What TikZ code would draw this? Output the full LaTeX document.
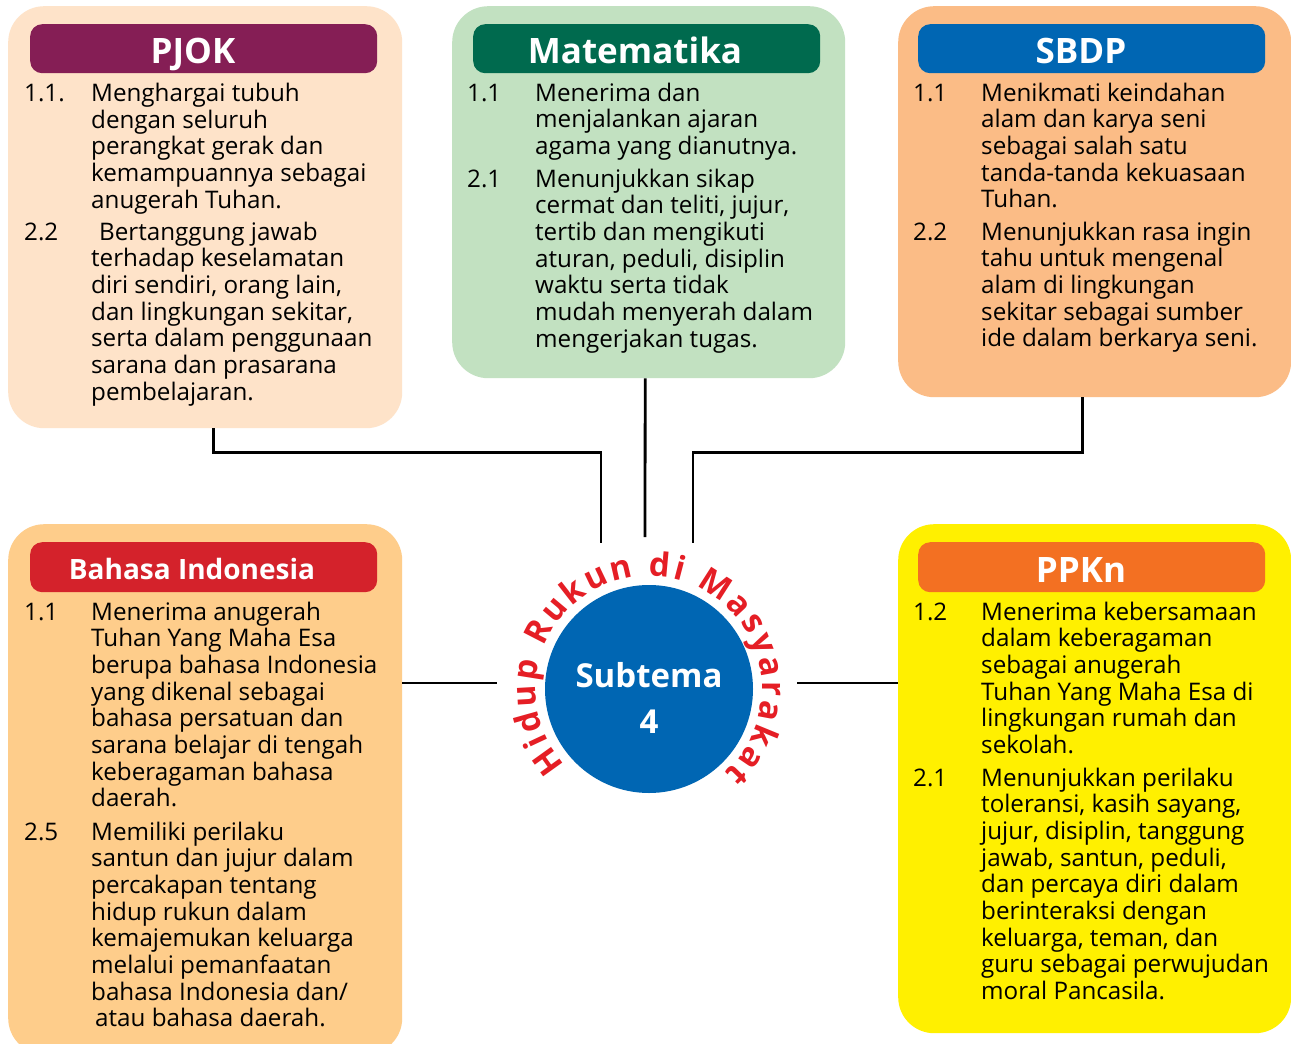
\documentclass[tikz,border=0pt]{standalone}
\usepackage{fontspec}
\setmainfont{Open Sans}
\usetikzlibrary{decorations.text}
\definecolor{pjokbg}{HTML}{FEE3C9}
\definecolor{pjokhd}{HTML}{851E55}
\definecolor{matbg}{HTML}{C2E1C1}
\definecolor{mathd}{HTML}{006A4E}
\definecolor{sbdpbg}{HTML}{FBBC86}
\definecolor{sbdphd}{HTML}{0066B3}
\definecolor{bindbg}{HTML}{FECD8B}
\definecolor{bindhd}{HTML}{D4222B}
\definecolor{ppknbg}{HTML}{FFF000}
\definecolor{ppknhd}{HTML}{F37022}
\definecolor{hubblue}{HTML}{0066B3}
\definecolor{hubred}{HTML}{E51E25}
\newcommand\bodyfnt{\fontsize{24.2}{26.7}\selectfont}
\newcommand\curvefnt{\fontsize{33}{36}\selectfont\bfseries\color{hubred}}
\newcommand\lns[1]{\begin{tabular}[t]{@{}l@{}}#1\end{tabular}}
\begin{document}
\begin{tikzpicture}[x=1pt,y=1pt,
  panel/.style={rectangle, rounded corners=36pt, draw=none, anchor=north west, inner sep=0pt},
  header/.style={rectangle, rounded corners=12pt, anchor=north west, inner sep=0pt, minimum width=347pt, minimum height=49pt},
  headtxt/.style={anchor=base, text=white, inner sep=0pt, font=\fontsize{35}{40}\selectfont\bfseries},
  numtxt/.style={anchor=base west, inner sep=0pt, font=\bodyfnt},
  itemtxt/.style={anchor=base west, inner sep=0pt, font=\bodyfnt},
  conn/.style={draw=black, line width=2.8pt}]
\useasboundingbox (0,0) rectangle (1291,-1044);
\fill[white] (0,0) rectangle (1291,-1044);

% panels
\node[panel, fill=pjokbg, minimum width=394pt, minimum height=422pt] (pjok) at (8,-6) {};
\node[panel, fill=matbg, minimum width=393pt, minimum height=372pt] (mat) at (452,-6) {};
\node[panel, fill=sbdpbg, minimum width=393pt, minimum height=391pt] (sbdp) at (898,-6) {};
\node[panel, fill=bindbg, minimum width=394pt, minimum height=530pt] (bind) at (8,-524) {};
\node[panel, fill=ppknbg, minimum width=393pt, minimum height=509pt] (ppkn) at (898,-524) {};

% headers
\node[header, fill=pjokhd] (pjokh) at (30,-24) {};
\node[header, fill=mathd] (math) at (473,-24) {};
\node[header, fill=sbdphd] (sbdph) at (918,-24) {};
\node[header, fill=bindhd, minimum height=50pt] (bindh) at (30,-542) {};
\node[header, fill=ppknhd, minimum height=50pt] (ppknh) at (918,-542) {};

\node[headtxt] (pjokt) at (193,-63) {PJOK};
\node[headtxt] (matt) at (635,-63) {Matematika};
\node[headtxt] (sbdpt) at (1081,-63) {SBDP};
\node[headtxt, font=\fontsize{28}{32}\selectfont\bfseries] (bindt) at (192,-579) {Bahasa Indonesia};
\node[headtxt] (ppknt) at (1081,-582) {PPKn};

% PJOK items
\node[numtxt] (pjokn1) at (24,-101.5) {1.1.};
\node[itemtxt] (pjoki1) at (91,-101.5) {\lns{Menghargai tubuh\\dengan seluruh\\perangkat gerak dan\\kemampuannya sebagai\\anugerah Tuhan.}};
\node[numtxt] (pjokn2) at (24,-240) {2.2};
\node[itemtxt] (pjoki2) at (91,-240) {\lns{\hspace*{8pt}Bertanggung jawab\\terhadap keselamatan\\diri sendiri, orang lain,\\dan lingkungan sekitar,\\serta dalam penggunaan\\sarana dan prasarana\\pembelajaran.}};

% Matematika items
\node[numtxt] (matn1) at (467,-101) {1.1};
\node[itemtxt] (mati1) at (535,-101) {\lns{Menerima dan\\menjalankan ajaran\\agama yang dianutnya.}};
\node[numtxt] (matn2) at (467,-187) {2.1};
\node[itemtxt] (mati2) at (535,-187) {\lns{Menunjukkan sikap\\cermat dan teliti, jujur,\\tertib dan mengikuti\\aturan, peduli, disiplin\\waktu serta tidak\\mudah menyerah dalam\\mengerjakan tugas.}};

% SBDP items
\node[numtxt] (sbdpn1) at (913,-101) {1.1};
\node[itemtxt] (sbdpi1) at (981,-101) {\lns{Menikmati keindahan\\alam dan karya seni\\sebagai salah satu\\tanda-tanda kekuasaan\\Tuhan.}};
\node[numtxt] (sbdpn2) at (913,-240) {2.2};
\node[itemtxt] (sbdpi2) at (981,-240) {\lns{Menunjukkan rasa ingin\\tahu untuk mengenal\\alam di lingkungan\\sekitar sebagai sumber\\ide dalam berkarya seni.}};

% Bahasa Indonesia items
\node[numtxt] (bindn1) at (24,-620) {1.1};
\node[itemtxt] (bindi1) at (91,-620) {\lns{Menerima anugerah\\Tuhan Yang Maha Esa\\berupa bahasa Indonesia\\yang dikenal sebagai\\bahasa persatuan dan\\sarana belajar di tengah\\keberagaman bahasa\\daerah.}};
\node[numtxt] (bindn2) at (24,-840) {2.5};
\node[itemtxt] (bindi2) at (91,-840) {\lns{Memiliki perilaku\\santun dan jujur dalam\\percakapan tentang\\hidup rukun dalam\\kemajemukan keluarga\\melalui pemanfaatan\\bahasa Indonesia dan/\\\hspace*{4pt}atau bahasa daerah.}};

% PPKn items
\node[numtxt] (ppknn1) at (913,-620) {1.2};
\node[itemtxt] (ppkni1) at (981,-620) {\lns{Menerima kebersamaan\\dalam keberagaman\\sebagai anugerah\\Tuhan Yang Maha Esa di\\lingkungan rumah dan\\sekolah.}};
\node[numtxt] (ppknn2) at (913,-786) {2.1};
\node[itemtxt] (ppkni2) at (981,-786) {\lns{Menunjukkan perilaku\\toleransi, kasih sayang,\\jujur, disiplin, tanggung\\jawab, santun, peduli,\\dan percaya diri dalam\\berinteraksi dengan\\keluarga, teman, dan\\guru sebagai perwujudan\\moral Pancasila.}};

% hub
\node[circle, fill=hubblue, minimum size=208pt, inner sep=0pt] (hub) at (649,-689) {};
\node[anchor=base, text=white, inner sep=0pt, font=\fontsize{33}{36}\selectfont\bfseries] (subt) at (649,-687) {Subtema};
\node[anchor=base, text=white, inner sep=0pt, font=\fontsize{33}{36}\selectfont\bfseries] (subn) at (649,-733) {4};

% connectors
\coordinate (hubL) at (601,-543);
\coordinate (hubM) at (645,-537);
\coordinate (hubR) at (693,-543);
\coordinate (hubW) at (497,-683);
\coordinate (hubE) at (797,-683);
\draw[conn] ([xshift=8pt]pjok.south) -- ++(0,-24) -| (hubL);
\draw[conn] ([xshift=-3.5pt]mat.south) -- (hubM);
\draw[conn] ([xshift=-12.5pt]sbdp.south) -- ++(0,-55) -| (hubR);
\draw[conn] (bind.east |- hubW) -- (hubW);
\draw[conn] (hubE) -- (ppkn.west |- hubE);

% curved title
\path[decorate, decoration={text along path, text align=fit to path,
  text={|\curvefnt|Hidup Rukun di Masyarakat}}]
  ([shift={(222:113)}]hub.center) arc[start angle=222, end angle=-48, radius=113];
\end{tikzpicture}
\end{document}
